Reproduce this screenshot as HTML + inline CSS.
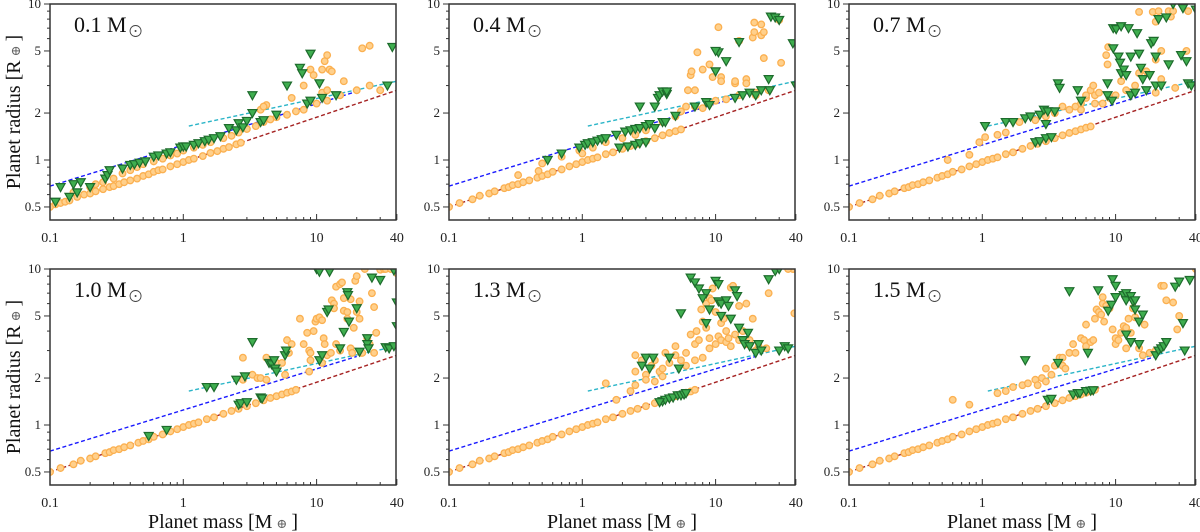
<!DOCTYPE html>
<html><head><meta charset="utf-8"><style>
html,body{margin:0;padding:0;background:#fff;}
svg{display:block;font-family:"Liberation Serif","DejaVu Serif",serif;}
</style></head><body>
<svg id="chart" width="1200" height="532" viewBox="0 0 1200 532"></svg>
<script>
const panelLabels = ["0.1","0.4","0.7","1.0","1.3","1.5"];
const xTicks = [0.1,1,10,40];
const xTickLabels = ["0.1","1","10","40"];
const yTicks = [0.5,1,2,5,10];
const yTickLabels = ["0.5","1","2","5","10"];
const blueLine = [[0.1,0.68],[20,2.75]];
const redLine = [[0.1,0.5],[40,2.8]];
const cyanLine = [[1.1,1.65],[40,3.2]];

const redA = [[0.1,0.5],[0.11,0.52],[0.12,0.53],[0.13,0.54],[0.14,0.55],[0.16,0.58],[0.18,0.6],[0.2,0.61],[0.22,0.63],[0.25,0.65],[0.28,0.67],[0.3,0.68],[0.33,0.7],[0.36,0.72],[0.4,0.74],[0.45,0.76],[0.5,0.79],[0.55,0.81],[0.6,0.84],[0.65,0.86],[0.7,0.87],[0.8,0.91],[0.9,0.94],[1,0.97],[1.1,1.0],[1.2,1.02],[1.4,1.06],[1.6,1.11],[1.8,1.14],[2,1.18],[2.2,1.21],[2.5,1.26],[2.7,1.29]];
const redB = [[0.1,0.5],[0.12,0.53],[0.15,0.56],[0.17,0.59],[0.2,0.61],[0.22,0.63],[0.26,0.66],[0.28,0.67],[0.3,0.69],[0.33,0.7],[0.36,0.72],[0.4,0.74],[0.46,0.77],[0.5,0.79],[0.55,0.81],[0.6,0.84],[0.7,0.87],[0.8,0.91],[0.9,0.94],[1,0.97],[1.1,1.0],[1.2,1.02],[1.3,1.04],[1.5,1.09],[1.7,1.12],[2,1.18],[2.3,1.23],[2.6,1.27],[3,1.32],[3.5,1.38],[4,1.44],[4.5,1.49],[5,1.53],[5.5,1.57],[6,1.61],[6.5,1.64],[7,1.68]];

const circ1 = redA.concat([[0.15,0.62],[0.2,0.67],[0.22,0.7],[0.25,0.72],[0.3,0.76],[0.35,0.82],[0.4,0.86],[0.45,0.9],[0.5,0.94],[0.6,0.98],[0.7,1.02],[0.8,1.07],[0.9,1.1],[1,1.15],[1.2,1.2],[1.4,1.25],[1.6,1.3],[2,1.38],[2.3,1.43],[2.6,1.5],[3,1.58],[3.5,1.65],[4,1.75],[4.5,1.82],[5,1.88],[6,1.95],[7,2.05],[8,2.1],[10,2.3],[12,2.4],[3.8,2.1],[4.2,2.25],[4,2.2],[8,3],[9,3.8],[9.5,3.5],[11,3.8],[11.5,4.3],[12,4.7],[12.5,3.8],[13,3.7],[11,2.7],[12,2.8],[16,3.2],[20,2.8],[22,5.2],[25,5.4],[25,3],[30,2.8],[6.5,2.5],[15,2.6]]);
const tri1 = [[0.11,0.54],[0.12,0.67],[0.14,0.58],[0.15,0.7],[0.16,0.62],[0.17,0.72],[0.2,0.67],[0.26,0.76],[0.27,0.8],[0.28,0.86],[0.35,0.88],[0.4,0.93],[0.43,0.94],[0.47,0.96],[0.52,0.98],[0.6,1.05],[0.65,1.07],[0.75,1.1],[0.8,1.12],[0.95,1.2],[1,1.22],[1.05,1.22],[1.2,1.25],[1.3,1.28],[1.45,1.32],[1.55,1.35],[1.7,1.38],[1.9,1.42],[2.2,1.6],[2.5,1.55],[2.6,1.72],[2.8,1.62],[3,1.78],[3.3,2],[3.8,1.75],[4,1.8],[5,1.95],[8.5,2.3],[9,2.4],[11,2.5],[14,2.6],[34,3],[3.3,2.6],[7.5,3.9],[7.8,3.6],[9,4.8],[10.5,3.1],[6,3],[37,5.3]];

const circ2 = redB.slice(0,34).concat([[0.33,0.8],[0.47,0.85],[0.5,0.95],[0.7,1.05],[0.95,1.15],[1,1.1],[1.2,1.2],[1.5,1.3],[2,1.38],[2.5,1.45],[3,1.55],[4,1.75],[5,1.9],[5.5,2.05],[6,2.2],[7,2.2],[8,2.15],[9,2.3],[10,2.4],[12,2.45],[15,2.6],[20,2.7],[6.2,2.8],[7,2.8],[6.5,3.5],[6.6,3.7],[7.3,4.9],[8,3.8],[9.5,3.4],[9,4.1],[10.5,7.1],[11,3.4],[11,3.2],[14,3.1],[14,3.2],[15,5.8],[17,3.3],[17,3.1],[19,6.1],[19.5,6.6],[19.5,7.6],[22,7.4],[22,6.3],[23,6.6],[23,4.5],[30,7.9],[31,4.2],[25,2.8],[20,2.6]]);
const tri2 = [[0.55,1.0],[0.7,1.1],[0.95,1.2],[1.05,1.25],[1.1,1.28],[1.2,1.3],[1.3,1.33],[1.4,1.36],[1.5,1.38],[1.8,1.45],[2.1,1.52],[2.3,1.55],[2.5,1.58],[2.7,1.6],[3,1.65],[3.2,1.7],[3.5,1.6],[4,1.75],[4.2,1.75],[5,1.92],[2.7,2.2],[3.5,2.2],[3.7,2.5],[3.8,2.6],[4,2.75],[4.3,2.65],[4.3,2.75],[1.9,1.2],[2.2,1.22],[2.5,1.25],[2.7,1.28],[3,1.3],[7,2.2],[8.5,2.35],[9,2.25],[10,3.7],[10.5,4.9],[12,4.3],[10,5],[15,5.7],[16,2.6],[18,2.7],[20,2.6],[22,2.8],[25,3.3],[25.5,2.8],[26,8.3],[28,8.2],[30,7.9],[38,5.6],[40,3],[14,2.5]];

const circ3 = redB.slice(0,36).concat([[0.55,1.0],[0.8,1.08],[0.95,1.3],[1.05,1.4],[1.3,1.45],[1.5,1.5],[1.9,1.75],[2.5,1.8],[3,1.9],[3.5,2],[4,2.2],[4.5,2.1],[5,2.2],[5.5,2.3],[6,2.5],[6.5,2.8],[6.8,3],[7,2.6],[7.5,2.7],[8,2.3],[8.5,4.7],[8.7,4.1],[8.8,5.3],[9,2.5],[10,2.6],[11,3.2],[12,2.8],[14,3],[15,3.6],[15,8.9],[17,3.7],[19,8.9],[20,4.4],[20,7.7],[21,9],[22,5],[22,3.3],[25,9],[26,8.3],[27,9],[28,2.9],[34,5],[35,9],[20,2.7],[6,2.6],[7,2.3],[5.5,2.1]]);
const tri3 = [[1.05,1.65],[1.5,1.75],[1.7,1.75],[2.1,1.85],[2.3,1.9],[2.7,1.95],[2.9,2.1],[3.1,2.05],[3.5,2.05],[3,1.7],[3.7,3.1],[3.8,2.9],[5.2,2.8],[5.5,2.4],[2.5,1.3],[2.7,1.32],[3,1.38],[3.3,1.4],[8.7,3.1],[8.7,2.6],[9.4,2.4],[9.6,7],[10.1,6.9],[9.6,5.2],[10.5,4.6],[10.8,4.2],[11,3.6],[11.5,3.8],[12,3.5],[11,7.2],[12.5,7],[13,4.6],[14.5,6.5],[15,4.8],[15.5,3.9],[16,3.3],[17,2.8],[18,3.5],[18.5,5.6],[19.3,5.8],[20,4.6],[20,3],[22,3],[21,8],[24,8.2],[25,4.1],[27,10],[31,4.7],[32,9.4],[34,4.3],[35,3.1],[37,3],[40,9.2],[13,2.6],[14,2.7]];

const circ4 = redB.concat([[2.8,2.7],[2.8,1.95],[3.3,2.1],[3.6,2],[3.8,2],[4.2,2.7],[4.2,1.95],[5,2.5],[5.5,2.5],[5.8,2.1],[6,3.5],[6.5,3.3],[6.2,2.9],[7.5,4.8],[8,3.3],[8.5,3.9],[8.8,3],[9,2.9],[8.8,2.2],[9,2.6],[9.5,4],[9.8,4.6],[10,4.8],[10.5,4.9],[11,4.7],[11.3,3.6],[11.5,3.3],[11,2.5],[12,2.8],[12.8,2.9],[13,6.3],[13.5,6],[13.5,5.6],[14,7.7],[14,3.3],[15,8],[15,3],[15.5,8.2],[16,5.4],[16,6.5],[17,4.8],[17,5.3],[18,6.4],[18,3.1],[18.5,2.9],[19,4.2],[19.5,8.4],[20,5.3],[20,9],[21,6.2],[21,4.8],[21.5,2.9],[22,2.9],[23,10],[24,3.6],[25,3.3],[26,7],[27,2.9],[27,5.7],[28,3.9],[30,9.9],[32,10],[33,10],[36,10],[40,9.4]]);
const tri4 = [[0.55,0.85],[0.75,0.93],[2.6,1.35],[2.7,1.38],[3,1.4],[3.8,1.5],[3.9,1.48],[1.5,1.75],[1.7,1.75],[2.5,1.95],[2.9,2.05],[3.3,3.4],[4.4,2.5],[4.6,2.45],[4.8,2.6],[4.9,2.3],[5,2.2],[5.8,2.8],[5.9,3],[10,10],[10.5,9.6],[12.5,9.6],[10.5,2.6],[11,2.8],[12,5.3],[12.3,5.5],[15,3.1],[16,3.95],[17,7.1],[17.2,6.8],[17.5,4.6],[20,5.6],[21,2.95],[24,3.6],[24,3.3],[24.5,3.1],[26,8.8],[30,8.5],[33,3.15],[35,3.1],[38,3.2],[38,9.8],[40,4.3],[40,6.1]];

const circ5 = redB.concat([[2.5,2.8],[2.5,2.2],[2.8,2.6],[3,2.1],[3.3,2.4],[3.5,2.6],[3.8,2.2],[4,2.3],[4.2,2.9],[4.5,2.5],[5,3.2],[5,2.8],[5.5,2.6],[6,2.9],[6.5,3.8],[7,3.3],[7.2,4],[7.5,3.5],[7.8,5.5],[8,4.6],[8.5,6],[8.5,4.2],[9,6.5],[9,3.6],[9.3,6.3],[9.5,7.5],[10,3.3],[10,5.3],[10.5,3.7],[11,3.5],[11,4.5],[11.5,4.8],[12,3.4],[12,4],[12.5,3.6],[13,3.2],[13,7.6],[13.5,7.8],[14,3.8],[15,3.5],[15,5.8],[16,4],[17,6],[17,3.3],[18,3.5],[19,4.8],[20,3],[21,3.2],[25,7],[24,3.1],[38,10],[39,5.2],[35,10],[2.5,1.8],[3,1.95],[3.5,1.9],[4,2.05],[1.8,1.45],[2.3,1.65],[1.5,1.85],[7,2.6],[8,2.7],[9,3.1],[6,2.4]]);
const tri5 = [[3,2.7],[3.4,2.7],[2.8,2.4],[3.2,2.3],[4.5,2.7],[5.3,2.3],[5.5,5.2],[6.5,8.8],[7,8.2],[7.5,7.5],[8.5,7],[8,6.5],[8.5,4.5],[9,5.5],[10,8.4],[10.5,8],[10.5,6.2],[11,6],[11,5],[12,6.3],[12.5,5.8],[13,4.8],[14,7.3],[14.5,6.7],[15,4.2],[16,3.5],[16.5,3.3],[17.5,3.9],[18,3.2],[20,2.9],[21,3.3],[22,3],[25,8.6],[30,3],[33,3.2],[35,3.1],[28,9.7],[30,10],[4,1.42],[4.2,1.45],[4.5,1.48],[4.8,1.5],[5.2,1.55],[5.5,1.55],[5.8,1.57],[6,1.6],[3.8,1.4]];

const circ6 = redB.concat([[0.6,1.45],[0.8,1.35],[1.3,1.6],[1.5,1.65],[1.7,1.75],[2,1.8],[2.2,1.85],[2.5,1.95],[2.6,1.8],[2.8,2],[3,1.9],[3,2.3],[3.3,2.1],[3.5,2.4],[3.8,2.7],[4,2.7],[4,2.4],[4.2,2.3],[4.5,2.9],[4.8,3.3],[5,2.9],[5.5,3.6],[5.8,3.5],[6,4.4],[6,3.2],[6.5,3.4],[6.8,3.5],[7,4.8],[7.2,5.5],[7.5,5.3],[7.8,5.1],[8,6],[8,6.6],[8.2,4.6],[8.5,5.8],[9,5.6],[9.5,4.1],[10,3.6],[10,3.3],[10.5,3.5],[11,3.9],[11.5,4.3],[12,4.2],[12,3.1],[12.5,4.8],[13,3.9],[13.5,5.6],[14,4.9],[15,3.1],[16,2.8],[16.5,4.4],[18,2.9],[20,3],[24,6.3],[27,6.1],[30,5],[29,4.1],[40,10],[22,7.8],[23,7.8]]);
const tri6 = [[2.1,2.6],[3.7,2.5],[6.2,2.9],[9.5,8.6],[10,7.8],[7.4,7.3],[4.5,7.2],[8.8,5.4],[9.3,5.9],[10,6.6],[11.5,6.8],[12,7],[12,6.3],[13,6.7],[13.5,6.2],[14,5.5],[15,4.6],[16,5.1],[12,3.8],[13,3.4],[15,3.3],[20,2.8],[21,3],[22,3.1],[23,3.2],[24,3.4],[28,7.7],[30,8.3],[32,4.5],[36,8.5],[33,3],[3.1,1.45],[3.3,1.47],[4.8,1.57],[5.2,1.6],[5.4,1.6],[6,1.65],[6.5,1.66],[6.8,1.67],[14,6.3]];

const circleSets = [circ1,circ2,circ3,circ4,circ5,circ6];
const triangleSets = [tri1,tri2,tri3,tri4,tri5,tri6];

const NS="http://www.w3.org/2000/svg";
const svg=document.getElementById('chart');
const lefts=[50,449,849], tops=[4,269], W=346, H=216, PX_DEC=133.3, PY_DEC=156;
function mk(tag,attrs,parent){const e=document.createElementNS(NS,tag);for(const k in attrs)e.setAttribute(k,attrs[k]);(parent||svg).appendChild(e);return e;}
function titleText(parent,attrs,before,after){
  const t=mk('text',attrs,parent);
  t.appendChild(document.createTextNode(before));
  const s=mk('tspan',{'font-size':13,fill:'#666',dx:4},t); s.textContent='⊕';
  const s2=mk('tspan',{dx:4},t); s2.textContent=after;
  return t;
}

for(let p=0;p<6;p++){
  const L=lefts[p%3], T=tops[Math.floor(p/3)];
  const xs=m=>L+(Math.log10(m)+1)*PX_DEC;
  const ys=r=>T+(1-Math.log10(r))*PY_DEC;
  const g=mk('g',{});
  
  
  const cid='clip'+p;
  const cp=mk('clipPath',{id:cid},g); mk('rect',{x:L,y:T,width:W,height:H},cp);
  const plot=mk('g',{'clip-path':'url(#'+cid+')'},g);
  [[redLine,'#a52222','red-line'],[blueLine,'#1a1aff','blue-line'],[cyanLine,'#2bb5c8','cyan-line']].forEach(([ln,col,nm])=>{
    const l=mk('line',{x1:xs(ln[0][0]),y1:ys(ln[0][1]),x2:xs(ln[1][0]),y2:ys(ln[1][1]),stroke:col,'stroke-width':1.4,'stroke-dasharray':'4,2.5'},plot);
    
    
  });
  circleSets[p].forEach(d=>{
    const c=mk('circle',{cx:xs(d[0]),cy:ys(d[1]),r:3.3,fill:'#ffd08c',stroke:'#fbb050','stroke-width':1.3},plot);
    
    
  });
  triangleSets[p].forEach(d=>{
    const x=xs(d[0]), y=ys(d[1]);
    const t=mk('polygon',{points:(x-4.5)+','+(y-3.5)+' '+(x+4.5)+','+(y-3.5)+' '+x+','+(y+4.5),fill:'#3fae4f',stroke:'#1d6b2c','stroke-width':1.2},plot);
    
    
  });
  const fr=mk('rect',{x:L,y:T,width:W,height:H,fill:'none',stroke:'#333','stroke-width':1.5},g);
  
  
  [0.2,0.3,0.4,0.5,0.6,0.7,0.8,0.9,2,3,4,5,6,7,8,9,20,30].forEach(m=>mk('line',{x1:xs(m),x2:xs(m),y1:T+H,y2:T+H-3,stroke:'#333','stroke-width':1},g));
  xTicks.forEach((m,i)=>{
    mk('line',{x1:xs(m),x2:xs(m),y1:T+H,y2:T+H-6,stroke:'#333','stroke-width':1},g);
    const t=mk('text',{x:xs(m),y:T+H+22,'font-size':14,'text-anchor':'middle',fill:'#222'},g);
    t.textContent=xTickLabels[i];
    
    
  });
  [0.6,0.7,0.8,0.9,3,4,6,7,8,9].forEach(r=>mk('line',{x1:L,x2:L-3,y1:ys(r),y2:ys(r),stroke:'#333','stroke-width':1},g));
  yTicks.forEach((r,i)=>{
    mk('line',{x1:L,x2:L-6,y1:ys(r),y2:ys(r),stroke:'#333','stroke-width':1},g);
    const t=mk('text',{x:L-9,y:ys(r)+4,'font-size':13,'text-anchor':'end',fill:'#222'},g);
    t.textContent=yTickLabels[i];
    
    
  });
  const lb=mk('text',{x:L+24,y:T+28,'font-size':22,fill:'#111'},g);
  lb.textContent=panelLabels[p]+' M';
  
  
  const sx=L+24+lb.getComputedTextLength()+9, sy=T+28;
  mk('circle',{cx:sx,cy:sy-1,r:5.5,fill:'none',stroke:'#444','stroke-width':0.9},g);
  mk('circle',{cx:sx,cy:sy-1,r:1,fill:'#444'},g);
  if(p%3===0){
    const yt=titleText(g,{x:0,y:0,'font-size':20,'text-anchor':'middle',fill:'#111',transform:'translate(20,'+(T+H/2)+') rotate(-90)'},'Planet radius [R',']');
    
    
  }
  if(p>=3){
    const xt=titleText(g,{x:L+W/2,y:528,'font-size':20,'text-anchor':'middle',fill:'#111'},'Planet mass [M',']');
    
    
  }
}
</script>
</body></html>
